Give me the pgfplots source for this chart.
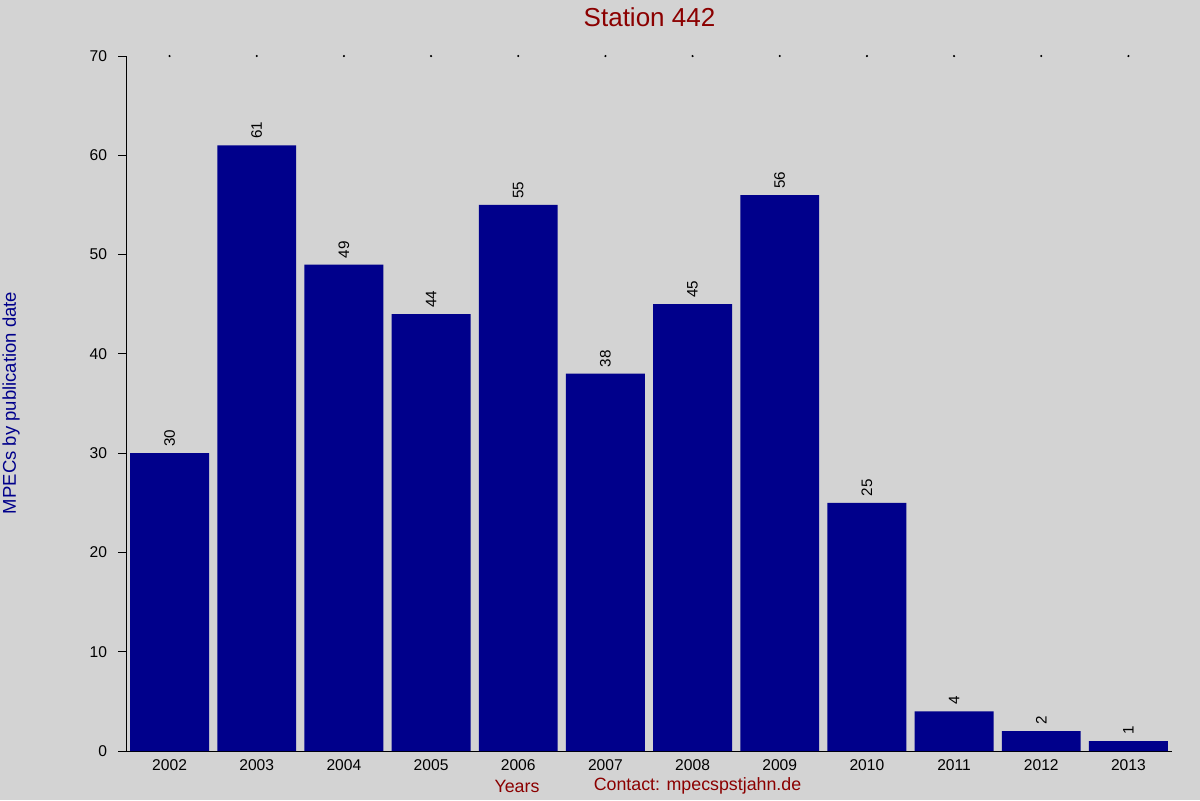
\documentclass[border=0pt]{standalone}
\usepackage{fontspec}
\setmainfont{Liberation Sans}
\usepackage{pgfplots}
\pgfplotsset{compat=1.18}
\definecolor{bg}{HTML}{D3D3D3}
\definecolor{barblue}{HTML}{00008B}
\definecolor{darkred}{HTML}{8B0000}
\newcommand{\fs}[1]{\fontsize{#1}{#1}\selectfont}

\begin{document}
\begin{tikzpicture}[x=0.5pt,y=0.5pt]
% canvas 1200 x 800 px
\useasboundingbox (0,0) rectangle (1200,800);
\fill[bg] (0,0) rectangle (1200,800);

\begin{axis}[
    at={(63pt,24.5pt)}, anchor=south west,
    scale only axis,
    width=523pt, height=347.5pt,
    axis x line=bottom, axis y line=left,
    axis line style={-, black, line width=0.5pt},
    xmin=-0.5, xmax=11.5,
    ymin=0, ymax=70,
    xtick={0,...,11},
    xticklabels={2002,2003,2004,2005,2006,2007,2008,2009,2010,2011,2012,2013},
    x tick style={draw=none},
    ytick={0,10,...,70},
    y tick style={black, line width=0.5pt},
    tick align=outside,
    major tick length=4pt,
    ticklabel style={font=\fs{7.8pt}},
    yticklabel style={xshift=-2pt},
    xticklabel style={yshift=3pt},
    /pgf/number format/assume math mode=true,
    clip=false,
]
\addplot[ybar, bar width=0.906, fill=barblue, draw=none,
    nodes near coords,
    every node near coord/.append style={rotate=90, anchor=west,
        font=\fs{7.6pt}, black, inner sep=3pt}]
coordinates {
    (0,30) (1,61) (2,49) (3,44) (4,55) (5,38)
    (6,45) (7,56) (8,25) (9,4) (10,2) (11,1)
};
\addplot[only marks, mark=*, mark size=0.3pt, black] coordinates {
    (0,70) (1,70) (2,70) (3,70) (4,70) (5,70)
    (6,70) (7,70) (8,70) (9,70) (10,70) (11,70)
};
\end{axis}

\node[darkred, font=\fs{13pt}, inner sep=0pt] at (649.5,783) {Station 442};
\node[barblue, font=\fs{9.25pt}, rotate=90, inner sep=0pt] at (11,397) {MPECs by publication date};
\node[darkred, font=\fs{8.9pt}, inner sep=0pt] at (517,14) {Years};
\node[darkred, font=\fs{8.9pt}, inner sep=0pt] at (697.5,14) {Contact: mpecspstjahn.de};
\end{tikzpicture}
\end{document}
